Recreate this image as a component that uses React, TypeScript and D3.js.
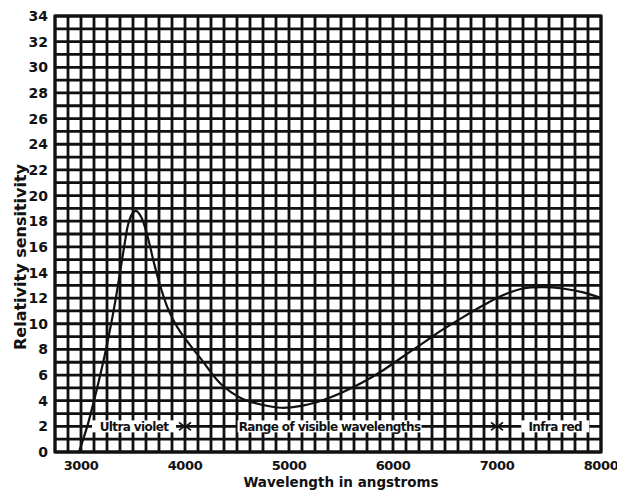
import * as d3 from "d3"

// wavelength (angstroms) and relative sensitivity
const wavelengths = [
  2980, 3060, 3125, 3185, 3240, 3290, 3335, 3375, 3415, 3455, 3495, 3530, 3580, 3640, 3700, 3760,
  3830, 3900, 3960, 4080, 4150, 4345, 4540, 4730, 4925, 5120, 5310, 5500, 5700, 5890, 6080, 6280,
  6470, 6670, 6860, 7050, 7250, 7440, 7630, 7830, 8000,
]
const sensitivity = [
  0, 2, 4, 6, 8, 10, 12, 14, 16, 17.8, 18.6, 18.8, 18.3, 16.8, 14.8, 13.0,
  11.3, 10.1, 9.3, 8.0, 7.3, 5.3, 4.2, 3.7, 3.45, 3.6, 4.0, 4.6, 5.4, 6.3, 7.35, 8.45,
  9.5, 10.5, 11.4, 12.2, 12.75, 12.85, 12.75, 12.45, 12.0,
]

const xTicks = [3000, 4000, 5000, 6000, 7000, 8000]
const yTicks = d3.range(0, 35, 2)

// spectral ranges marked along the 2 line
const rangeLabels = ["Ultra violet", "Range of visible wavelengths", "Infra red"]
const rangeLabelAt = [3510, 5390, 7560]
const rangeBounds = [4000, 7000]

const W = 617
const H = 491
const margin = { top: 16, right: 16, bottom: 39, left: 55 }

export default function App() {
  const x = d3.scaleLinear().domain([2750, 8000]).range([margin.left, W - margin.right])
  const y = d3.scaleLinear().domain([0, 34]).range([H - margin.bottom, margin.top])

  const xGrid = d3.range(2750, 8001, 125)
  const yGrid = d3.range(0, 35, 1)

  const pts = wavelengths.map((w, i) => [w, sensitivity[i]] as [number, number])
  const line = d3
    .line<[number, number]>()
    .x((d) => x(d[0]))
    .y((d) => y(d[1]))
    .curve(d3.curveCatmullRom.alpha(0.5))

  const font = "'DejaVu Sans', sans-serif"
  const ink = "#111"
  const y2 = y(2)

  // rough text widths for white backing boxes
  const labelWidths = [84, 184, 68]

  return (
    <svg
      width={W}
      height={H}
      style={{ position: "absolute", left: 0, top: 0, display: "block", background: "#fff" }}
    >
      {/* graph paper */}
      <g stroke={ink} strokeWidth={2.8}>
        {xGrid.map((v) => (
          <line key={"gx" + v} x1={x(v)} x2={x(v)} y1={y(0)} y2={y(34)} />
        ))}
        {yGrid.map((v) => (
          <line key={"gy" + v} x1={x(2750)} x2={x(8000)} y1={y(v)} y2={y(v)} />
        ))}
      </g>
      <rect
        x={x(2750)}
        y={y(34)}
        width={x(8000) - x(2750)}
        height={y(0) - y(34)}
        fill="none"
        stroke={ink}
        strokeWidth={3}
      />

      {/* range annotations */}
      <g fontFamily={font} fontWeight="bold" fontSize={12} fill={ink}>
        {rangeLabels.map((t, i) => (
          <g key={t}>
            <rect
              x={x(rangeLabelAt[i]) - labelWidths[i] / 2}
              y={y2 - 6}
              width={labelWidths[i]}
              height={12}
              fill="#fff"
            />
            <text x={x(rangeLabelAt[i])} y={y2 + 4.5} textAnchor="middle" letterSpacing={-0.6}>
              {t}
            </text>
          </g>
        ))}
        {rangeBounds.map((b) => (
          <g key={b} stroke={ink} strokeWidth={1.8} fill="none">
            <line x1={x(b)} x2={x(b)} y1={y2 - 5} y2={y2 + 5} />
            <path d={`M${x(b) - 6},${y2 - 4} L${x(b) - 1},${y2} L${x(b) - 6},${y2 + 4}`} />
            <path d={`M${x(b) + 6},${y2 - 4} L${x(b) + 1},${y2} L${x(b) + 6},${y2 + 4}`} />
          </g>
        ))}
      </g>

      {/* sensitivity curve */}
      <path d={line(pts) ?? ""} fill="none" stroke={ink} strokeWidth={2.2} />

      {/* y axis labels */}
      <g fontFamily={font} fontWeight="bold" fontSize={14} fill={ink}>
        {yTicks.map((v) => (
          <text key={v} x={48} y={y(v)} dy="0.36em" textAnchor="end">
            {v}
          </text>
        ))}
      </g>

      {/* x axis labels */}
      <g fontFamily={font} fontWeight="bold" fontSize={13} fill={ink}>
        {xTicks.map((v) => (
          <text key={v} x={x(v)} y={470} textAnchor="middle" letterSpacing={-0.4}>
            {v}
          </text>
        ))}
      </g>

      <text
        x={341}
        y={487}
        textAnchor="middle"
        fontFamily={font}
        fontWeight="bold"
        fontSize={13.5}
        fill={ink}
      >
        Wavelength in angstroms
      </text>
      <text
        transform={`translate(26, 257) rotate(-90)`}
        textAnchor="middle"
        fontFamily={font}
        fontWeight="bold"
        fontSize={16}
        fill={ink}
      >
        Relativity sensitivity
      </text>
    </svg>
  )
}
